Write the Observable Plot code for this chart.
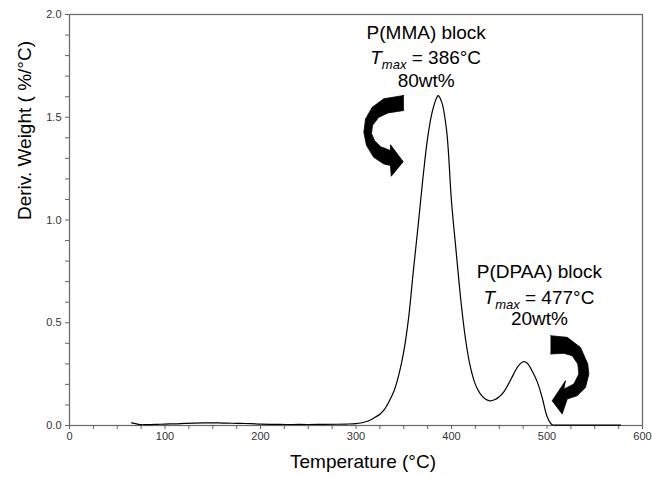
<!DOCTYPE html>
<html>
<head>
<meta charset="utf-8">
<script src="https://cdn.jsdelivr.net/npm/d3@7"></script>
<script src="https://cdn.jsdelivr.net/npm/@observablehq/plot@0.6"></script>
<style>
  body { margin: 0; background: #fff; }
  #chart svg { display: block; }
</style>
</head>
<body>
<div id="chart"></div>
<script>
// ---- data ----
const temps = [65, 70, 75, 80, 90, 100, 110, 120, 130, 140, 150, 160, 170, 180, 190, 200, 220, 240, 260, 280, 290, 300,
  305, 310, 315, 320, 325, 330, 335, 340, 345, 350, 355, 360, 365, 370, 375, 380, 385, 386, 390, 395, 400, 405, 410,
  415, 420, 425, 430, 435, 440, 445, 450, 455, 460, 465, 470, 475, 477, 480, 485, 490, 495, 500, 505, 510, 520, 540, 560, 577];
const derivWeight = [0.013, 0.008, 0.004, 0.004, 0.005, 0.007, 0.008, 0.010, 0.012, 0.013, 0.013, 0.012, 0.011, 0.010, 0.009, 0.007, 0.005, 0.005, 0.005, 0.006, 0.007, 0.009,
  0.012, 0.018, 0.027, 0.040, 0.055, 0.080, 0.120, 0.170, 0.250, 0.360, 0.520, 0.750, 0.970, 1.200, 1.400, 1.530, 1.600, 1.605, 1.570, 1.430, 1.090, 0.840, 0.600,
  0.410, 0.280, 0.200, 0.155, 0.130, 0.120, 0.125, 0.140, 0.165, 0.205, 0.250, 0.290, 0.310, 0.310, 0.300, 0.260, 0.210, 0.135, 0.045, 0.005, 0.002, 0.002, 0.002, 0.002, 0.002];

const xTicks = [0, 100, 200, 300, 400, 500, 600];
const xMinorTicks = [25, 50, 75, 125, 150, 175, 225, 250, 275, 325, 350, 375, 425, 450, 475, 525, 550, 575];
const yTicks = [0.0, 0.5, 1.0, 1.5, 2.0];
const yMinorTicks = [0.1, 0.2, 0.3, 0.4, 0.6, 0.7, 0.8, 0.9, 1.1, 1.2, 1.3, 1.4, 1.6, 1.7, 1.8, 1.9];

const xLabel = "Temperature (°C)";
const yLabel = "Deriv. Weight ( %/°C)";

// annotations (two blocks)
const blockNames = ["P(MMA) block", "P(DPAA) block"];
const blockTmax = ["386°C", "477°C"];
const blockWt = ["80wt%", "20wt%"];
const blockLabelT = [373.5, 492.1];
const blockLabelY1 = [1.908, 0.745];
const blockLabelY2 = [1.791, 0.623];
const blockLabelY3 = [1.679, 0.520];

// curved arrow outlines (temperature, deriv. weight)
const arrow1T = [350.1, 329.1, 317.0, 310.0, 308.2, 311.0, 318.6, 329.1, 336.1, 336.9, 349.4, 336.1, 336.1, 325.7, 319.4, 316.2, 317.3, 323.6, 333.4, 350.1];
const arrow1Y = [1.606, 1.590, 1.549, 1.492, 1.427, 1.362, 1.305, 1.273, 1.265, 1.213, 1.284, 1.366, 1.338, 1.357, 1.387, 1.421, 1.460, 1.499, 1.521, 1.533];
const arrow2T = [503.7, 521.2, 535.1, 542.7, 543.8, 540.3, 531.6, 521.2, 515.9, 505.4, 519.4, 517.6, 528.1, 533.3, 532.3, 526.4, 517.6, 503.7];
const arrow2Y = [0.437, 0.429, 0.380, 0.299, 0.250, 0.185, 0.145, 0.129, 0.056, 0.120, 0.218, 0.177, 0.202, 0.250, 0.299, 0.340, 0.351, 0.348];

// ---- build tables ----
const curve = temps.map((t, i) => ({t, v: derivWeight[i]}));
const arrow1 = arrow1T.map((t, i) => ({t, v: arrow1Y[i]}));
const arrow2 = arrow2T.map((t, i) => ({t, v: arrow2Y[i]}));
const titles = blockNames.map((s, i) => ({s, t: blockLabelT[i], v: blockLabelY1[i]}));
const wts = blockWt.map((s, i) => ({s, t: blockLabelT[i], v: blockLabelY3[i]}));

const FONT = "'Liberation Sans', Arial, Helvetica, sans-serif";
const GRAY = "#666";

const plot = Plot.plot({
  width: 652,
  height: 477,
  marginLeft: 69,
  marginRight: 10,
  marginTop: 14,
  marginBottom: 52,
  style: {fontFamily: FONT, fontSize: "11px", background: "#fff", color: "#000"},
  x: {domain: [0, 600]},
  y: {domain: [0, 2]},
  marks: [
    Plot.axisX(xTicks, {tickSize: 4, tickPadding: 3, stroke: GRAY, strokeOpacity: 1, fill: "#333", fontSize: 11, label: null}),
    Plot.axisX(xMinorTicks, {tickSize: 4, tickFormat: () => "", stroke: GRAY, strokeOpacity: 1, label: null}),
    Plot.axisY(yTicks, {tickSize: 4, tickPadding: 4, stroke: GRAY, strokeOpacity: 1, fill: "#333", fontSize: 11, tickFormat: d3.format(".1f"), label: null}),
    Plot.axisY(yMinorTicks, {tickSize: 4, tickFormat: () => "", stroke: GRAY, strokeOpacity: 1, label: null}),
    Plot.frame({stroke: GRAY, strokeWidth: 1.2}),
    Plot.line(curve, {x: "t", y: "v", stroke: "#000", strokeWidth: 1.2, curve: "catmull-rom"}),
    Plot.line(arrow1, {x: "t", y: "v", fill: "#000", stroke: "#000", strokeWidth: 0.8}),
    Plot.line(arrow2, {x: "t", y: "v", fill: "#000", stroke: "#000", strokeWidth: 0.8}),
    Plot.text(titles, {x: "t", y: "v", text: "s", fontSize: 19, fill: "#000"}),
    Plot.text(wts, {x: "t", y: "v", text: "s", fontSize: 19, fill: "#000"}),
    Plot.text([xLabel], {frameAnchor: "bottom", dy: 42, dx: 7, fontSize: 19, fill: "#000"}),
    Plot.text([yLabel], {frameAnchor: "left", dx: -45, rotate: -90, fontSize: 19, fill: "#000"})
  ]
});

// rich-text T_max lines placed through the plot's own scales
const sx = plot.scale("x"), sy = plot.scale("y");
const X = d3.scaleLinear().domain(sx.domain).range(sx.range);
const Y = d3.scaleLinear().domain(sy.domain).range(sy.range);
const svg = d3.select(plot);
blockTmax.forEach((val, i) => {
  const txt = svg.append("text")
    .attr("x", X(blockLabelT[i]))
    .attr("y", Y(blockLabelY2[i]))
    .attr("dy", "0.35em")
    .attr("text-anchor", "middle")
    .attr("font-family", FONT)
    .attr("font-size", 19)
    .attr("fill", "#000");
  txt.append("tspan").attr("font-style", "italic").text("T");
  txt.append("tspan").attr("font-style", "italic").attr("font-size", 13).attr("dy", 5).text("max");
  txt.append("tspan").attr("dy", -5).text(" = " + val);
});

document.getElementById("chart").appendChild(plot);
</script>
</body>
</html>
